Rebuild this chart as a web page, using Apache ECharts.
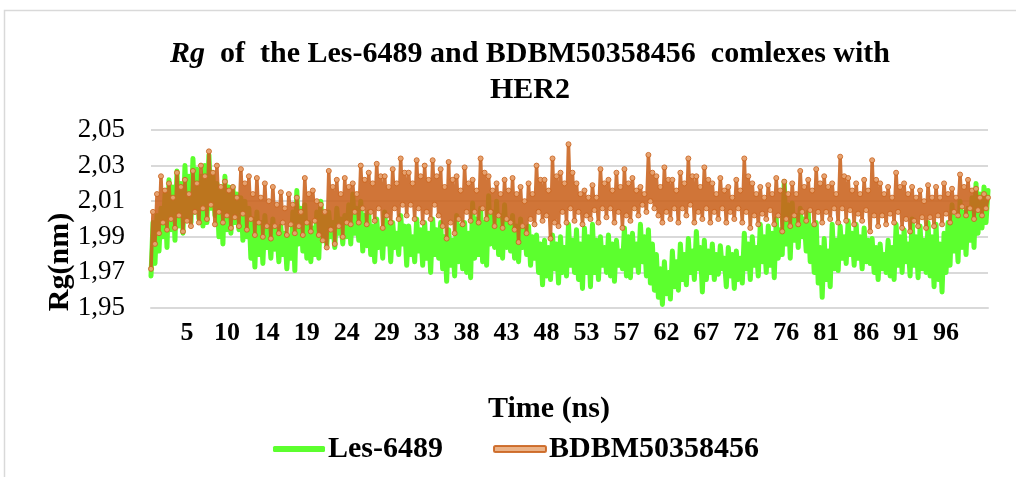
<!DOCTYPE html>
<html style="height: 100%">
<head>
	<meta charset="utf-8">
	<title>Rg</title>
	<script type="text/javascript" src="https://cdn.jsdelivr.net/npm/echarts@6/dist/echarts.min.js"></script>
</head>
<body style="height: 100%; margin: 0; background: #fff">
<div id="container" style="width: 1016px; height: 477px"></div>
<script type="text/javascript">
	// tick labels shown on the time axis (every 20th sample, starting at sample 18)
	var tickLabels = ['5', '10', '14', '19', '24', '29', '33', '38', '43', '48', '53', '57', '62', '67', '72', '76', '81', '86', '91', '96'];

	// Rg (nm) of Les-6489 complex, sampled along the run
	var les6489 = [
		1.968, 1.998, 1.975, 2.002, 1.982, 2.006, 1.990, 2.014, 1.984, 2.022, 1.994, 2.018, 1.988, 2.027, 1.996, 2.020, 1.992, 2.030, 2.000, 2.024,
		1.998, 2.034, 2.004, 2.028, 2.000, 2.024, 1.996, 2.030, 1.998, 2.036, 2.006, 2.026, 2.002, 2.020, 1.990, 2.016, 1.986, 2.024, 1.994, 2.018,
		1.992, 2.018, 1.998, 2.014, 1.994, 2.012, 1.988, 2.010, 1.990, 2.006, 1.978, 2.000, 1.973, 2.004, 1.980, 1.998, 1.975, 2.002, 1.984, 1.996,
		1.978, 2.000, 1.983, 1.994, 1.976, 1.996, 1.980, 1.992, 1.972, 1.990, 1.978, 2.004, 1.971, 2.016, 1.986, 2.006, 1.982, 2.008, 1.978, 1.998,
		1.976, 1.995, 1.980, 2.004, 1.978, 2.010, 1.988, 2.002, 1.985, 2.004, 1.990, 1.998, 1.984, 2.006, 1.992, 2.000, 1.986, 2.002, 1.990, 2.008,
		1.986, 2.014, 1.992, 2.006, 1.988, 2.010, 1.982, 2.002, 1.985, 2.004, 1.980, 1.996, 1.976, 2.000, 1.984, 1.994, 1.978, 2.004, 1.986, 1.998,
		1.976, 1.998, 1.984, 1.992, 1.980, 2.002, 1.986, 1.996, 1.974, 1.996, 1.980, 1.990, 1.976, 2.000, 1.982, 1.994, 1.974, 1.998, 1.978, 1.992,
		1.970, 2.000, 1.980, 1.994, 1.978, 1.998, 1.972, 1.990, 1.965, 1.994, 1.974, 1.988, 1.968, 2.002, 1.976, 1.996, 1.972, 1.998, 1.970, 1.992,
		1.967, 2.009, 1.978, 2.000, 1.980, 2.006, 1.976, 1.998, 1.974, 2.013, 1.986, 2.004, 1.984, 2.010, 1.980, 2.002, 1.978, 2.008, 1.984, 1.998,
		1.982, 2.002, 1.978, 1.996, 1.976, 2.000, 1.984, 1.994, 1.980, 1.996, 1.974, 1.990, 1.978, 1.991, 1.970, 1.986, 1.963, 1.988, 1.968, 1.984,
		1.966, 1.991, 1.972, 1.986, 1.964, 1.990, 1.970, 1.984, 1.968, 1.997, 1.974, 1.988, 1.970, 1.994, 1.966, 1.986, 1.961, 1.995, 1.970, 1.990,
		1.962, 1.997, 1.970, 1.988, 1.966, 1.990, 1.974, 1.984, 1.970, 1.991, 1.968, 1.986, 1.965, 1.988, 1.974, 1.982, 1.972, 1.995, 1.968, 1.990,
		1.967, 1.992, 1.974, 1.986, 1.970, 1.997, 1.976, 1.990, 1.968, 1.994, 1.964, 1.986, 1.960, 1.980, 1.956, 1.972, 1.952, 1.976, 1.958, 1.970,
		1.955, 1.982, 1.962, 1.976, 1.960, 1.986, 1.966, 1.980, 1.963, 1.989, 1.970, 1.982, 1.966, 1.993, 1.972, 1.984, 1.959, 1.988, 1.966, 1.982,
		1.970, 1.986, 1.966, 1.980, 1.969, 1.985, 1.972, 1.978, 1.962, 1.984, 1.968, 1.980, 1.961, 1.982, 1.966, 1.978, 1.964, 1.992, 1.972, 1.986,
		1.966, 1.990, 1.974, 1.984, 1.968, 1.997, 1.976, 1.990, 1.970, 1.996, 1.974, 1.992, 1.967, 2.000, 1.978, 1.994, 1.980, 2.021, 1.986, 2.008,
		1.978, 2.009, 1.988, 2.002, 1.984, 2.006, 1.990, 2.000, 1.982, 2.004, 1.976, 1.996, 1.970, 1.998, 1.964, 1.984, 1.956, 1.989, 1.966, 1.982,
		1.962, 1.997, 1.972, 1.988, 1.971, 1.996, 1.978, 1.990, 1.975, 1.999, 1.980, 1.992, 1.974, 1.997, 1.978, 1.990, 1.972, 1.995, 1.976, 1.988,
		1.975, 1.989, 1.970, 1.984, 1.966, 1.986, 1.972, 1.980, 1.970, 1.988, 1.968, 1.984, 1.966, 1.997, 1.974, 1.990, 1.970, 1.994, 1.976, 1.986,
		1.968, 2.000, 1.974, 1.990, 1.967, 1.996, 1.972, 1.988, 1.970, 1.998, 1.968, 1.990, 1.962, 1.997, 1.966, 1.986, 1.959, 1.992, 1.970, 1.998,
		1.974, 2.008, 1.982, 2.000, 1.976, 2.010, 1.984, 2.004, 1.980, 2.006, 1.988, 2.012, 1.984, 2.020, 1.992, 2.014, 1.995, 2.018, 1.998, 2.016
	];

	// Rg (nm) of BDBM50358456 complex
	var bdbm = [
		1.972, 2.004, 1.986, 2.014, 1.992, 2.024, 1.998, 2.016, 1.994, 2.020, 2.000, 2.012, 1.995, 2.026, 2.002, 2.018, 1.993, 2.022, 1.999, 2.014,
		1.996, 2.027, 2.004, 2.020, 1.998, 2.030, 2.006, 2.024, 2.000, 2.038, 2.008, 2.026, 1.997, 2.030, 2.004, 2.018, 1.998, 2.021, 2.002, 2.016,
		1.995, 2.018, 2.001, 2.012, 1.996, 2.028, 2.003, 2.020, 1.994, 2.024, 2.000, 2.014, 1.991, 2.023, 1.998, 2.012, 1.990, 2.020, 1.996, 2.010,
		1.989, 2.018, 1.996, 2.008, 1.992, 2.015, 1.998, 2.006, 1.991, 2.014, 1.997, 2.008, 1.992, 2.012, 1.996, 2.004, 1.991, 2.023, 1.998, 2.014,
		1.993, 2.016, 1.999, 2.010, 1.991, 2.008, 1.988, 2.004, 1.984, 2.027, 1.994, 2.018, 1.986, 2.022, 1.996, 2.014, 1.990, 2.023, 1.998, 2.018,
		1.997, 2.020, 2.004, 2.014, 1.998, 2.030, 2.006, 2.022, 1.997, 2.026, 2.004, 2.020, 1.999, 2.031, 2.006, 2.024, 1.995, 2.024, 2.002, 2.018,
		1.998, 2.028, 2.006, 2.020, 2.000, 2.034, 2.008, 2.026, 2.002, 2.026, 2.008, 2.020, 2.000, 2.033, 2.006, 2.024, 1.998, 2.030, 2.004, 2.022,
		2.000, 2.033, 2.008, 2.024, 2.002, 2.028, 1.996, 2.018, 1.989, 2.032, 1.998, 2.022, 1.992, 2.024, 2.000, 2.016, 1.997, 2.029, 2.004, 2.020,
		1.999, 2.022, 2.004, 2.016, 1.998, 2.034, 2.006, 2.026, 2.000, 2.024, 2.004, 2.016, 1.996, 2.020, 2.002, 2.014, 1.995, 2.022, 2.000, 2.016,
		1.998, 2.023, 1.994, 2.014, 1.987, 2.018, 1.996, 2.010, 1.992, 2.020, 2.000, 2.014, 1.997, 2.030, 2.004, 2.022, 1.999, 2.022, 2.002, 2.016,
		1.989, 2.034, 1.998, 2.024, 1.996, 2.026, 2.004, 2.020, 1.998, 2.042, 2.006, 2.026, 1.999, 2.020, 2.004, 2.014, 1.997, 2.016, 2.002, 2.012,
		2.000, 2.019, 2.005, 2.012, 1.998, 2.028, 2.006, 2.020, 2.001, 2.022, 2.006, 2.016, 1.998, 2.026, 2.004, 2.018, 1.995, 2.028, 2.002, 2.020,
		1.999, 2.023, 2.006, 2.016, 2.002, 2.018, 2.008, 2.014, 2.004, 2.036, 2.010, 2.026, 2.006, 2.024, 2.002, 2.018, 1.998, 2.029, 2.004, 2.022,
		2.000, 2.022, 2.006, 2.016, 1.998, 2.026, 2.006, 2.020, 2.002, 2.034, 2.008, 2.024, 1.998, 2.024, 2.004, 2.018, 2.000, 2.029, 2.006, 2.022,
		1.998, 2.020, 2.004, 2.014, 2.000, 2.023, 2.006, 2.016, 1.998, 2.018, 2.004, 2.012, 2.000, 2.022, 2.006, 2.016, 1.998, 2.034, 2.004, 2.024,
		1.995, 2.020, 2.002, 2.014, 1.997, 2.018, 2.003, 2.012, 2.000, 2.019, 2.005, 2.014, 1.997, 2.023, 2.002, 2.016, 1.993, 2.021, 2.000, 2.014,
		1.996, 2.020, 2.002, 2.014, 1.997, 2.027, 2.004, 2.018, 1.999, 2.022, 2.005, 2.016, 1.997, 2.028, 2.004, 2.020, 1.998, 2.024, 2.004, 2.018,
		2.000, 2.020, 2.006, 2.014, 1.998, 2.035, 2.006, 2.024, 1.999, 2.023, 2.005, 2.016, 1.997, 2.020, 2.003, 2.014, 1.999, 2.022, 2.005, 2.016,
		1.993, 2.033, 2.002, 2.022, 1.996, 2.020, 2.002, 2.014, 1.997, 2.018, 2.003, 2.012, 1.998, 2.026, 2.004, 2.018, 1.995, 2.020, 2.000, 2.014,
		1.993, 2.018, 1.999, 2.012, 1.996, 2.016, 2.001, 2.010, 1.995, 2.019, 2.001, 2.012, 1.996, 2.018, 2.002, 2.012, 1.997, 2.020, 2.003, 2.014,
		1.998, 2.017, 2.004, 2.012, 2.002, 2.025, 2.007, 2.018, 2.002, 2.022, 2.006, 2.016, 2.000, 2.017, 2.005, 2.012, 2.002, 2.014, 2.006, 2.012
	];

	// sample time categories (0.24 ns per step)
	var categories = [];
	for (var i = 0; i < les6489.length; i++) {
		categories.push((i * 0.24).toFixed(2));
	}

	var serif = 'Liberation Serif';
	var dom = document.getElementById('container');
	var myChart = echarts.init(dom);

	var option = {
		animation: false,
		backgroundColor: '#fff',
		title: {
			left: 525,
			top: 31,
			textAlign: 'center',
			text: '{i|Rg}  of  the Les-6489 and BDBM50358456  comlexes with\nHER2',
			textStyle: {
				fontFamily: serif,
				fontWeight: 'bold',
				fontSize: 30,
				lineHeight: 36,
				color: '#000',
				rich: {
					i: {fontFamily: serif, fontWeight: 'bold', fontStyle: 'italic', fontSize: 30, lineHeight: 36, color: '#000'}
				}
			}
		},
		legend: {
			left: 273,
			top: 434,
			padding: 0,
			itemWidth: 52,
			itemHeight: 6,
			itemGap: 50,
			textStyle: {fontFamily: serif, fontWeight: 'bold', fontSize: 30, color: '#000', padding: [0, 0, 0, -2]},
			data: [
				{name: 'Les-6489', icon: 'roundRect'},
				{name: 'BDBM50358456', icon: 'roundRect'}
			]
		},
		grid: {left: 151, right: 28, top: 130, bottom: 169},
		xAxis: {
			type: 'category',
			boundaryGap: false,
			data: categories,
			axisLine: {show: true, lineStyle: {color: '#d9d9d9', width: 2}},
			axisTick: {show: false},
			axisLabel: {
				margin: 12,
				fontFamily: serif,
				fontWeight: 'bold',
				fontSize: 26,
				color: '#000',
				interval: function (idx) { return idx >= 18 && (idx - 18) % 20 === 0 && (idx - 18) / 20 < tickLabels.length; },
				formatter: function (val, idx) { return tickLabels[(idx - 18) / 20] || ''; }
			}
		},
		yAxis: {
			type: 'value',
			min: 1.95,
			max: 2.05,
			interval: 0.02,
			axisLine: {show: false},
			axisTick: {show: false},
			splitLine: {lineStyle: {color: '#d9d9d9', width: 2}},
			axisLabel: {
				margin: 26,
				fontFamily: serif,
				fontSize: 27,
				color: '#000',
				formatter: function (v) { return v.toFixed(2).replace('.', ','); }
			}
		},
		graphic: [
			{
				type: 'rect',
				shape: {x: 4.5, y: 10.5, width: 1100, height: 600},
				style: {fill: 'none', stroke: '#d9d9d9', lineWidth: 1.5},
				silent: true
			},
			{
				type: 'text',
				x: 60,
				y: 262,
				rotation: Math.PI / 2,
				style: {
					text: 'Rg(nm)',
					fontFamily: serif,
					fontWeight: 'bold',
					fontSize: 30,
					fill: '#000',
					textAlign: 'center',
					textVerticalAlign: 'middle'
				}
			},
			{
				type: 'text',
				x: 549,
				y: 409,
				style: {
					text: 'Time (ns)',
					fontFamily: serif,
					fontWeight: 'bold',
					fontSize: 30,
					fill: '#000',
					textAlign: 'center',
					textVerticalAlign: 'middle'
				}
			}
		],
		series: [
			{
				name: 'Les-6489',
				type: 'line',
				data: les6489,
				symbol: 'none',
				lineStyle: {color: '#5cff2e', width: 5, cap: 'round', join: 'round'},
				itemStyle: {color: '#5cff2e'}
			},
			{
				name: 'BDBM50358456',
				type: 'line',
				data: bdbm,
				symbol: 'circle',
				symbolSize: 5,
				showAllSymbol: true,
				lineStyle: {color: '#c9621c', width: 3.5, opacity: 0.88, join: 'round'},
				itemStyle: {color: '#e8a878', borderColor: '#c9621c', borderWidth: 1, opacity: 0.88}
			}
		]
	};

	myChart.setOption(option);
</script>
</body>
</html>
